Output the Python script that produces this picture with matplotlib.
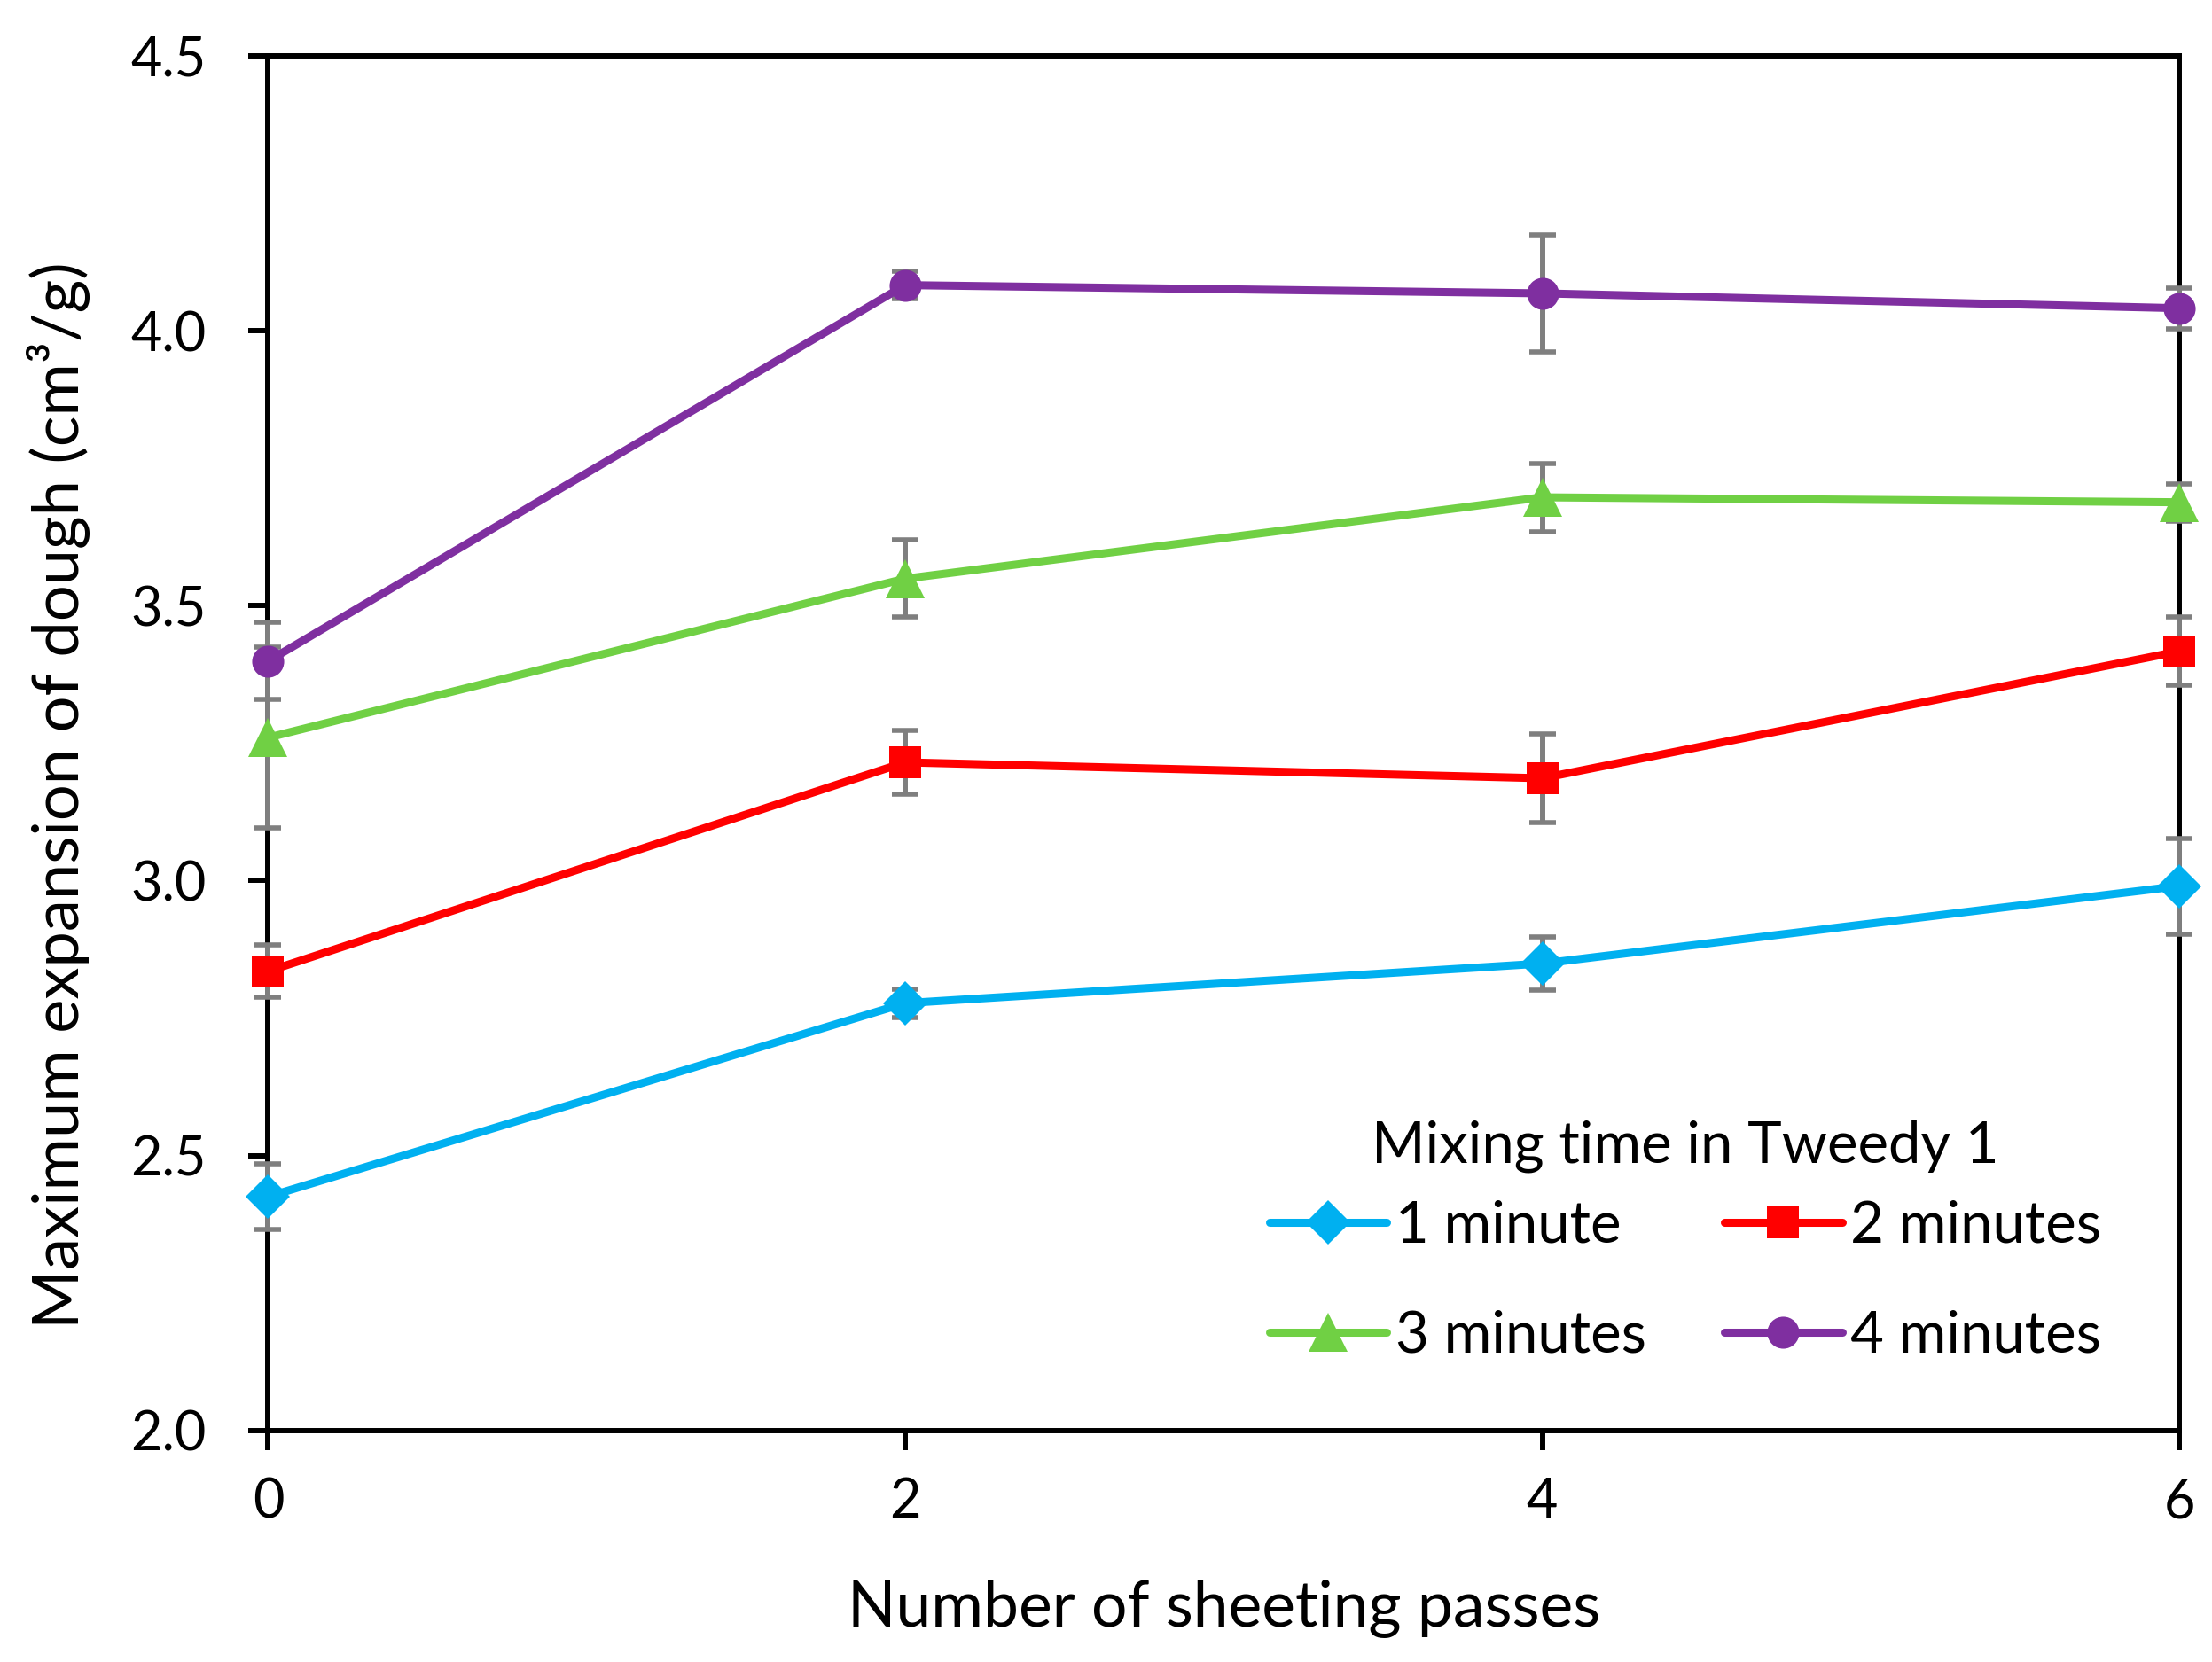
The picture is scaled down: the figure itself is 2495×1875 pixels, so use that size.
import numpy as np
import matplotlib
matplotlib.use('Agg')
import matplotlib.pyplot as plt

# 数据
passes = [0, 2, 4, 6]
labels = ['1 minute', '2 minutes', '3 minutes', '4 minutes']
mix1 = [2.425, 2.777, 2.849, 2.990]
mix1_err = [0.060, 0.026, 0.049, 0.087]
mix2 = [2.835, 3.215, 3.186, 3.417]
mix2_err = [0.048, 0.058, 0.080, 0.062]
mix3 = [3.260, 3.549, 3.697, 3.688]
mix3_err = [0.165, 0.070, 0.062, 0.034]
mix4 = [3.399, 4.083, 4.068, 4.041]
mix4_err = [0.070, 0.025, 0.107, 0.037]

colors = ['#00B0F0', '#FF0000', '#70D044', '#7F2FA0']
markers = ['D', 's', '^', 'o']
msizes = [25, 26, 31, 26]

plt.rcParams['font.family'] = ['Lato', 'DejaVu Sans']

fig = plt.figure(figsize=(24.95, 18.75), dpi=100)
ax = fig.add_axes([0.1212, 0.1394, 0.8640, 0.8270])

series = [mix1, mix2, mix3, mix4]
errs = [mix1_err, mix2_err, mix3_err, mix4_err]

# 误差线
for y, e in zip(series, errs):
    ax.errorbar(passes, y, yerr=e, fmt='none', ecolor='#7F7F7F',
                elinewidth=4.3, capsize=10.5, capthick=4.0,
                zorder=3, clip_on=False)

# 折线
handles = []
for y, c, m, ms, lab in zip(series, colors, markers, msizes, labels):
    h, = ax.plot(passes, y, color=c, lw=6.5, marker=m, markersize=ms,
                 markeredgewidth=0, label=lab, zorder=4, clip_on=False,
                 solid_capstyle='round')
    handles.append(h)

ax.set_xlim(0, 6)
ax.set_ylim(2.0, 4.5)
ax.set_xticks([0, 2, 4, 6])
ax.set_yticks([2.0, 2.5, 3.0, 3.5, 4.0, 4.5])
ax.set_yticklabels(['2.0', '2.5', '3.0', '3.5', '4.0', '4.5'])

for s in ax.spines.values():
    s.set_linewidth(4.3)
    s.set_color('black')

ax.tick_params(axis='x', direction='out', length=16, width=4.3,
               labelsize=44, pad=22)
ax.tick_params(axis='y', direction='out', length=16, width=4.3,
               labelsize=44, pad=34)

ax.set_xlabel('Number of sheeting passes', fontsize=51.5, va='baseline')
ax.xaxis.set_label_coords(0.5, -0.1427)
ax.set_ylabel('Maximum expansion of dough (cm³/g)', fontsize=52, va='baseline')
ax.yaxis.set_label_coords(-0.0989, 0.462)

# 图例按行排列: 1,2 / 3,4
order = [0, 2, 1, 3]
leg = ax.legend([handles[i] for i in order], [labels[i] for i in order],
                ncol=2, frameon=False, fontsize=47,
                title='Mixing time in Tweedy 1', title_fontsize=47,
                handlelength=2.03, handletextpad=0.15, columnspacing=1.35,
                labelspacing=1.0, loc='center',
                bbox_to_anchor=(1901 / 2495, 1 - 1400 / 1875),
                bbox_transform=fig.transFigure)
leg._legend_box.sep = 22

fig.savefig('out.png', dpi=100, facecolor='white')
